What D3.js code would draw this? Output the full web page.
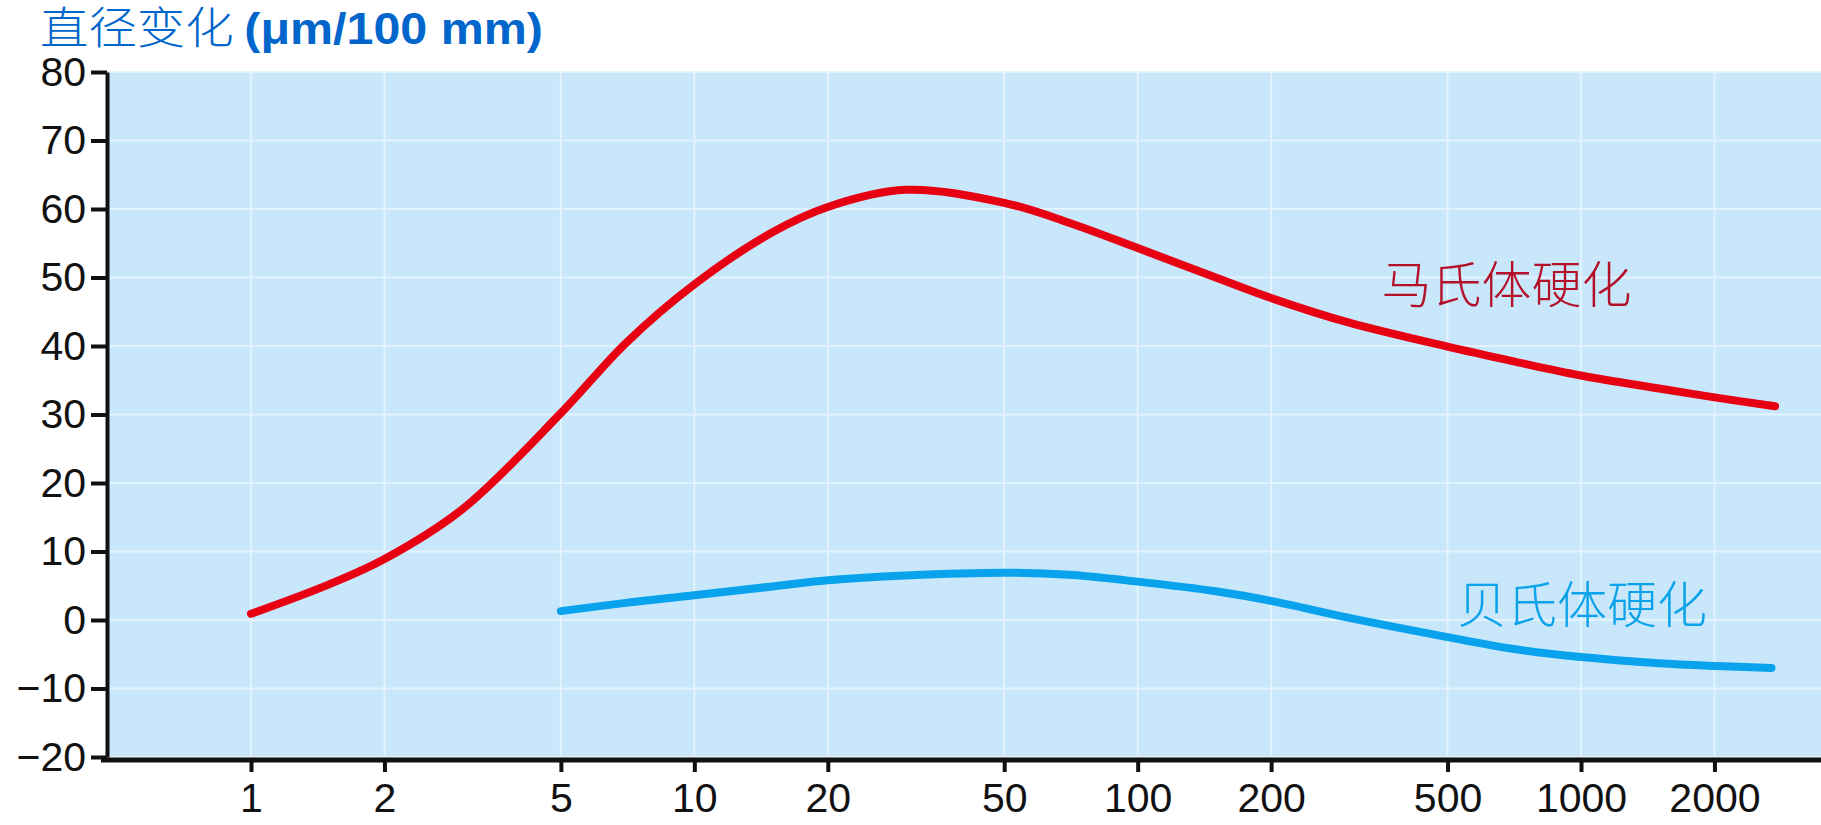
<!doctype html>
<html>
<head>
<meta charset="utf-8">
<style>
    body { margin: 0; background: #fff; }
    svg { display: block; }
    .tick text { font-family: "Liberation Sans", Arial, sans-serif; font-size: 41px; fill: #111; }
</style>
<script src="https://d3js.org/d3.v7.min.js"></script>
</head>
<body>

    <svg id="chart" width="1821" height="825"></svg>

    <script>

        // Data
        var xTicks = [1, 2, 5, 10, 20, 50, 100, 200, 500, 1000, 2000];
        var yTicks = [-20, -10, 0, 10, 20, 30, 40, 50, 60, 70, 80];

        var martX = [1, 1.5, 2, 3, 5, 7, 10, 15, 20, 30, 50, 70, 100, 150, 200, 300, 500, 700, 1000, 1500, 2000, 2740];
        var martY = [0.9, 5.2, 8.9, 16.2, 30.2, 40.4, 49.0, 56.6, 60.3, 62.8, 60.9, 58.0, 54.3, 50.0, 47.0, 43.4, 39.9, 37.8, 35.7, 33.8, 32.5, 31.2];

        var bainX = [5, 7, 10, 15, 20, 30, 50, 70, 100, 150, 200, 300, 500, 700, 1000, 1500, 2000, 2690];
        var bainY = [1.3, 2.5, 3.6, 4.9, 5.8, 6.5, 6.9, 6.6, 5.6, 4.2, 2.8, 0.3, -2.5, -4.2, -5.4, -6.3, -6.7, -7.0];

        var labels = ["马氏体硬化", "贝氏体硬化"];
        var labelX = [355, 525];
        var labelY = [46.3, -0.4];
        var colors = ["#e60012", "#08a3ec"];
        var labelColors = ["#b3102a", "#0aa2ea"];

        var svg = d3.select("#chart");
        var plotL = 107, plotR = 1821, plotT = 72, plotB = 757;

        // Scales
        var x = d3.scaleLog().domain([1, 1000]).range([251, 1581]);
        var y = d3.scaleLinear().domain([-20, 80]).range([plotB, plotT]);

        // plot background
        svg.append("rect")
          .attr("x", plotL).attr("y", plotT)
          .attr("width", plotR - plotL).attr("height", plotB - plotT)
          .attr("fill", "#c9e7fa");

        // grid
        svg.append("g").selectAll("line")
          .data(xTicks).enter().append("line")
            .attr("x1", d => x(d)).attr("x2", d => x(d))
            .attr("y1", plotT).attr("y2", plotB)
            .attr("stroke", "#e2f3fd").attr("stroke-width", 2);
        svg.append("g").selectAll("line")
          .data(yTicks).enter().append("line")
            .attr("x1", plotL).attr("x2", plotR)
            .attr("y1", d => y(d)).attr("y2", d => y(d))
            .attr("stroke", "#e2f3fd").attr("stroke-width", 2);

        // curves
        var line = d3.line()
          .x(d => x(d[0]))
          .y(d => y(d[1]))
          .curve(d3.curveCatmullRom.alpha(0.5));

        [[martX, martY], [bainX, bainY]].forEach(function (s, i) {
          svg.append("path")
            .datum(d3.zip(s[0], s[1]))
            .attr("d", line)
            .attr("fill", "none")
            .attr("stroke", colors[i])
            .attr("stroke-width", 8)
            .attr("stroke-linecap", "round");
        });

        // axes
        var xAxis = svg.append("g")
          .attr("transform", "translate(0," + (plotB + 3) + ")")
          .call(d3.axisBottom(x).tickValues(xTicks).tickFormat(d3.format("d"))
            .tickSize(12).tickSizeOuter(0).tickPadding(11));
        xAxis.select(".domain").remove();
        xAxis.selectAll(".tick line").attr("stroke", "#111").attr("stroke-width", 4);
        svg.append("line")
          .attr("x1", plotL - 6).attr("x2", plotR)
          .attr("y1", plotB + 3).attr("y2", plotB + 3)
          .attr("stroke", "#111").attr("stroke-width", 5);

        var yAxis = svg.append("g")
          .attr("transform", "translate(" + plotL + ",0)")
          .call(d3.axisLeft(y).tickValues(yTicks)
            .tickFormat(d => d < 0 ? "\u2212" + Math.abs(d) : d)
            .tickSize(16).tickSizeOuter(0).tickPadding(5));
        yAxis.select(".domain").attr("stroke", "#111").attr("stroke-width", 4);
        yAxis.selectAll(".tick line").attr("stroke", "#111").attr("stroke-width", 4);

        // series labels
        svg.append("g").selectAll("text")
          .data(labels).enter().append("text")
            .attr("x", (d, i) => x(labelX[i]))
            .attr("y", (d, i) => y(labelY[i]))
            .attr("fill", (d, i) => labelColors[i])
            .style("font-family", "'Noto Sans CJK SC', sans-serif")
            .style("font-weight", 300)
            .style("font-size", "50px")
            .text(d => d);

        // title
        var title = svg.append("text")
          .attr("transform", "translate(40,44) scale(1.1,1)")
          .attr("fill", "#0066cc")
          .style("font-size", "44px");
        title.append("tspan")
          .style("font-family", "'Noto Sans CJK SC', sans-serif")
          .style("font-weight", 300)
          .text("直径变化 ");
        title.append("tspan")
          .style("font-family", "'Liberation Sans', Arial, sans-serif")
          .style("font-weight", "bold")
          .text("(μm/100 mm)");

    </script>

</body>
</html>
